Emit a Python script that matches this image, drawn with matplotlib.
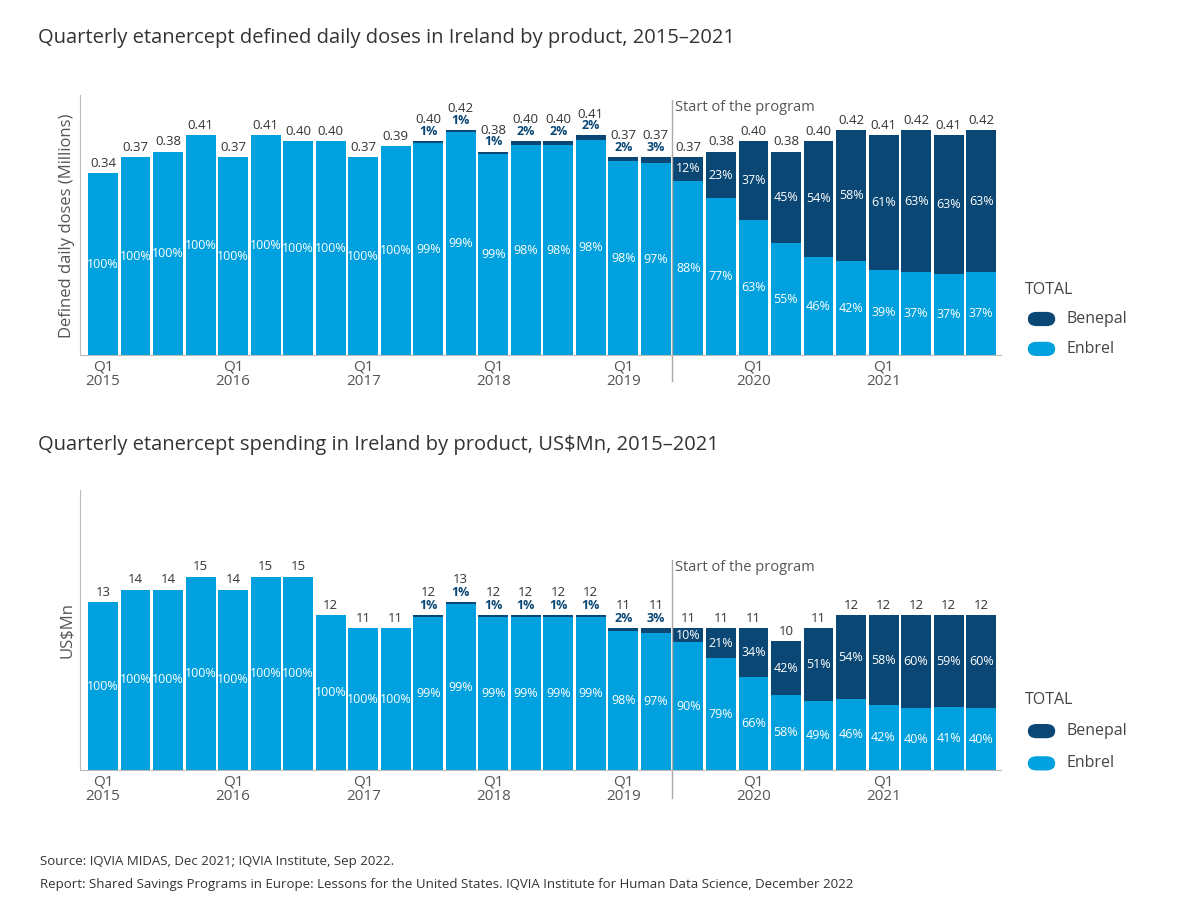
import matplotlib
matplotlib.use("Agg")
import matplotlib.pyplot as plt
import numpy as np
from matplotlib.patches import FancyBboxPatch

plt.rcParams['font.family'] = ['Open Sans', 'DejaVu Sans']

quarters = [f"Q{q}\n{y}" for y in range(2015, 2022) for q in range(1, 5)]
dose_total = [0.34,0.37,0.38,0.41,0.37,0.41,0.40,0.40,0.37,0.39,0.40,0.42,0.38,0.40,0.40,0.41,
              0.37,0.37,0.37,0.38,0.40,0.38,0.40,0.42,0.41,0.42,0.41,0.42]
dose_benepal = [0]*10 + [1,1,1,2,2,2,2,3,12,23,37,45,54,58,61,63,63,63]
dose_enbrel = [100]*10 + [99,99,99,98,98,98,98,97,88,77,63,55,46,42,39,37,37,37]
spend_total = [13,14,14,15,14,15,15,12,11,11,12,13,12,12,12,12,11,11,11,11,11,10,11,12,12,12,12,12]
spend_benepal = [0]*10 + [1,1,1,1,1,1,2,3,10,21,34,42,51,54,58,60,59,60]
spend_enbrel = [100]*10 + [99,99,99,99,99,99,98,97,90,79,66,58,49,46,42,40,41,40]

C_EN = '#00A1DE'
C_BE = '#0A4774'
GRAY = '#555555'

fig = plt.figure(figsize=(11.8, 9.16), dpi=100)

def panel(rect, total, ben, enb, ymax, fmt, ylabel, title, title_y, prog_y):
    ax = fig.add_axes(rect)
    x = np.arange(len(total))
    t = np.array(total, float)
    e = t * np.array(enb) / 100
    b = t - e
    ax.bar(x, e, width=0.92, color=C_EN, zorder=2)
    ax.bar(x, b, bottom=e, width=0.92, color=C_BE, zorder=2)
    for i in x:
        off = ymax * 0.012
        small = 0 < ben[i] < 5
        ty = t[i] + off + (ymax * 0.045 if small else 0)
        ax.text(i, ty, fmt(t[i]), ha='center', va='bottom', fontsize=9.5, color='#333333')
        ax.text(i, e[i] / 2, f"{enb[i]}%", ha='center', va='center', fontsize=9, color='white', zorder=3)
        if ben[i] >= 5:
            ax.text(i, e[i] + b[i] / 2, f"{ben[i]}%", ha='center', va='center', fontsize=9, color='white', zorder=3)
        elif small:
            ax.text(i, t[i] + off, f"{ben[i]}%", ha='center', va='bottom', fontsize=9, color=C_BE, fontweight='bold')
    ax.set_xlim(-0.7, len(total) - 0.4)
    ax.set_ylim(0, ymax)
    ax.set_yticks([])
    ax.set_xticks([i for i in x if i % 4 == 0])
    ax.set_xticklabels([quarters[i] for i in x if i % 4 == 0], fontsize=11, color=GRAY, linespacing=0.95)
    ax.tick_params(axis='x', length=0, pad=3)
    for s in ['top', 'right']:
        ax.spines[s].set_visible(False)
    for s in ['left', 'bottom']:
        ax.spines[s].set_color('#bbbbbb')
    ax.set_ylabel(ylabel, fontsize=12, color=GRAY)
    ax.axvline(17.5, ymin=-0.1, ymax=prog_y, color='#aaaaaa', lw=1, clip_on=False)
    ax.text(17.6, ymax * prog_y, "Start of the program", fontsize=10.5, color=GRAY, va='top')
    fig.text(0.032, title_y, title, fontsize=14.5, color='#333333', va='center')
    # legend
    lx = 1025 / 1180
    fig.text(lx, rect[1] + rect[3] * 0.25, "TOTAL", fontsize=11.5, color='#444444', va='center')
    for k, (lab, col) in enumerate([("Benepal", C_BE), ("Enbrel", C_EN)]):
        yy = rect[1] + rect[3] * (0.14 - k * 0.115)
        fig.patches.append(FancyBboxPatch((lx + 0.003, yy - 0.007), 0.022, 0.014,
                                          boxstyle="round,pad=0,rounding_size=0.007",
                                          transform=fig.transFigure, color=col))
        fig.text(lx + 0.035, yy, lab, fontsize=11.5, color='#444444', va='center')
    return ax

panel([0.068, 0.612, 0.78, 0.284], dose_total, dose_benepal, dose_enbrel, 0.485,
      lambda v: f"{v:.2f}", "Defined daily doses (Millions)",
      "Quarterly etanercept defined daily doses in Ireland by product, 2015\u20132021", 0.958, 0.98)
panel([0.068, 0.159, 0.78, 0.306], spend_total, spend_benepal, spend_enbrel, 21.7,
      lambda v: f"{v:.0f}", "US$Mn",
      "Quarterly etanercept spending in Ireland by product, US$Mn, 2015\u20132021", 0.514, 0.75)

fig.text(0.034, 0.059, "Source: IQVIA MIDAS, Dec 2021; IQVIA Institute, Sep 2022.", fontsize=9.5, color='#333333', va='center')
fig.text(0.034, 0.034, "Report: Shared Savings Programs in Europe: Lessons for the United States. IQVIA Institute for Human Data Science, December 2022",
         fontsize=9.5, color='#333333', va='center')
fig.savefig("out.png", dpi=100, facecolor='white')
